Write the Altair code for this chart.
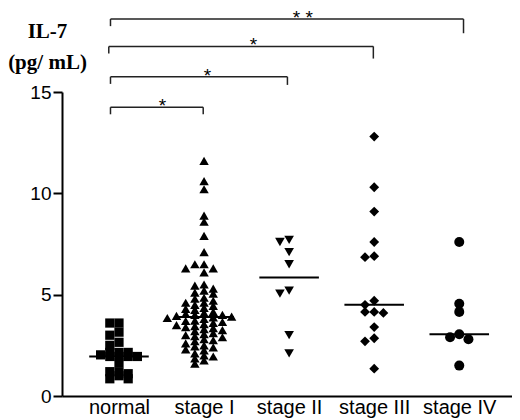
import json
import numpy as np
import pandas as pd
import altair as alt

# groups on the x axis and the marker used for each
groups = ["normal", "stage I", "stage II", "stage III", "stage IV"]
shapes = ["square", "triangle-up", "triangle-down", "diamond", "circle"]
marker_sizes = [85, 100, 100, 100, 110]
# vertical spacing (pg/mL) below which two points of a group share no column
swarm_gaps = [0.18, 0.25, 0.34, 0.34, 0.34]

# IL-7 (pg/mL) per patient
normal = [3.6, 3.6, 3.15, 3.0, 2.65, 2.5, 2.15, 2.15, 2.15, 1.95, 1.95, 2.03,
          1.95, 1.95, 1.65, 1.2, 1.0, 0.85, 1.2, 0.85, 1.1]
stage_1 = [11.6, 10.6, 10.2, 8.9, 8.6, 7.9, 7.1, 6.5, 6.3, 6.1, 6.3, 6.5,
           5.5, 5.45, 5.3, 5.2, 5.1, 5.05, 4.85, 4.8, 4.7, 4.6, 4.6, 4.5, 4.45,
           4.35, 4.3, 4.25, 4.15, 4.1, 4.05, 4.0, 4.0, 3.95, 3.92,
           3.88, 3.85, 3.8, 3.72, 3.7, 3.65, 3.6, 3.55, 3.5, 3.45, 3.4, 3.35,
           3.3, 3.25, 3.2, 3.1, 3.05, 3.0, 2.95, 2.9, 2.8, 2.75, 2.7, 2.6, 2.5,
           2.45, 2.4, 2.3, 2.25, 2.1, 2.0, 1.95, 1.85, 1.75, 1.6]
stage_2 = [7.7, 7.6, 7.1, 6.5, 5.05, 5.2, 3.0, 2.1]
stage_3 = [12.8, 10.3, 9.1, 7.6, 6.9, 6.85, 4.7, 4.5, 4.15, 4.1, 4.15, 3.4,
           2.85, 2.7, 1.35]
stage_4 = [7.6, 4.55, 4.15, 2.9, 2.8, 3.05, 1.5]
series = [normal, stage_1, stage_2, stage_3, stage_4]

# significance brackets, all against "normal"
bracket_left = [-0.1, -0.1, -0.12, -0.1]
bracket_right = [0.99, 1.98, 2.99, 4.05]
bracket_level = [14.25, 15.75, 17.25, 18.6]
bracket_drop_right = [0.35, 0.4, 0.6, 0.7]
bracket_stars = ["*", "*", "*", "* *"]
star_x = [0.51, 1.04, 1.58, 2.16]


def swarm_offsets(values, gap, step=0.108):
    """Greedy beeswarm: put each point in the nearest free column."""
    order = np.argsort(-values, kind="stable")
    placed = {}
    out = np.zeros(len(values))
    for i in order:
        v = values[i]
        k = 0
        done = False
        while not done:
            for slot in ([0] if k == 0 else [-k, k]):
                if all(abs(v - p) >= gap for p in placed.get(slot, [])):
                    placed.setdefault(slot, []).append(v)
                    out[i] = slot * step
                    done = True
                    break
            k += 1
    return out


rows = []
for gi, (g, vals) in enumerate(zip(groups, series)):
    offs = swarm_offsets(np.array(vals), swarm_gaps[gi])
    for v, o in zip(vals, offs):
        rows.append({"group": g, "x": gi + o, "value": v})
points_df = pd.DataFrame(rows)

median_df = pd.DataFrame({
    "x": [i - 0.35 for i in range(len(groups))],
    "x2": [i + 0.35 for i in range(len(groups))],
    "value": [float(np.median(v)) for v in series],
})

seg = []
for xl, xr, lv, dr in zip(bracket_left, bracket_right, bracket_level, bracket_drop_right):
    seg.append({"x": xl, "x2": xr, "value": lv, "y2": lv})
    seg.append({"x": xl, "x2": xl, "value": lv, "y2": lv - 0.35})
    seg.append({"x": xr, "x2": xr, "value": lv, "y2": lv - dr})
bracket_df = pd.DataFrame(seg)
stars_df = pd.DataFrame({"x": star_x, "value": bracket_level, "stars": bracket_stars})

x_scale = alt.Scale(domain=[-0.67, 4.62], nice=False, zero=False)
y_scale = alt.Scale(domain=[0, 15], nice=False, zero=True)

label_expr = json.dumps(groups) + "[datum.value]"

x_enc = alt.X("x:Q", scale=x_scale, axis=alt.Axis(
    values=[0, 1, 2, 3, 4], labelExpr=label_expr, ticks=False, grid=False,
    title=None, labelFontSize=20, labelPadding=1, labelOverlap=False,
    labelFlush=False, domainWidth=2))
y_enc = alt.Y("value:Q", scale=y_scale, axis=alt.Axis(
    values=[0, 5, 10, 15], grid=False, tickSize=9, tickWidth=2, domainWidth=2,
    labelFontSize=19, labelPadding=2,
    title=["IL-7", "(pg/ mL)"], titleAngle=0, titleAlign="center",
    titleBaseline="alphabetic", titleX=-15, titleY=-55, titleLineHeight=31,
    titleFont="Liberation Serif", titleFontSize=21, titleFontWeight="bold"))

points = alt.Chart(points_df).mark_point(filled=True, opacity=1, color="black").encode(
    x=x_enc,
    y=y_enc,
    shape=alt.Shape("group:N", scale=alt.Scale(domain=groups, range=shapes), legend=None),
    size=alt.Size("group:N", scale=alt.Scale(domain=groups, range=marker_sizes), legend=None),
)

medians = alt.Chart(median_df).mark_rule(color="black", strokeWidth=2).encode(
    x=x_enc, x2="x2:Q", y=y_enc,
)

brackets = alt.Chart(bracket_df).mark_rule(color="#222222", strokeWidth=1.5).encode(
    x=x_enc, x2="x2:Q", y=y_enc, y2="y2:Q",
)

stars = alt.Chart(stars_df).mark_text(
    font="Liberation Sans", fontSize=19, baseline="alphabetic", dy=5, color="black"
).encode(
    x=x_enc, y=y_enc, text="stars:N",
)

chart = (
    alt.layer(points, medians, brackets, stars)
    .properties(
        width=450,
        height=304,
        padding={"left": 54, "top": 84, "right": 0, "bottom": 26},
        autosize=alt.AutoSizeParams(type="none"),
    )
    .configure_view(stroke=None)
    .configure_axis(
        domainColor="black", tickColor="black", labelColor="black", titleColor="black",
        labelFont="Liberation Sans",
    )
)

chart.save("out.html", embed_options={"renderer": "svg", "actions": False})
